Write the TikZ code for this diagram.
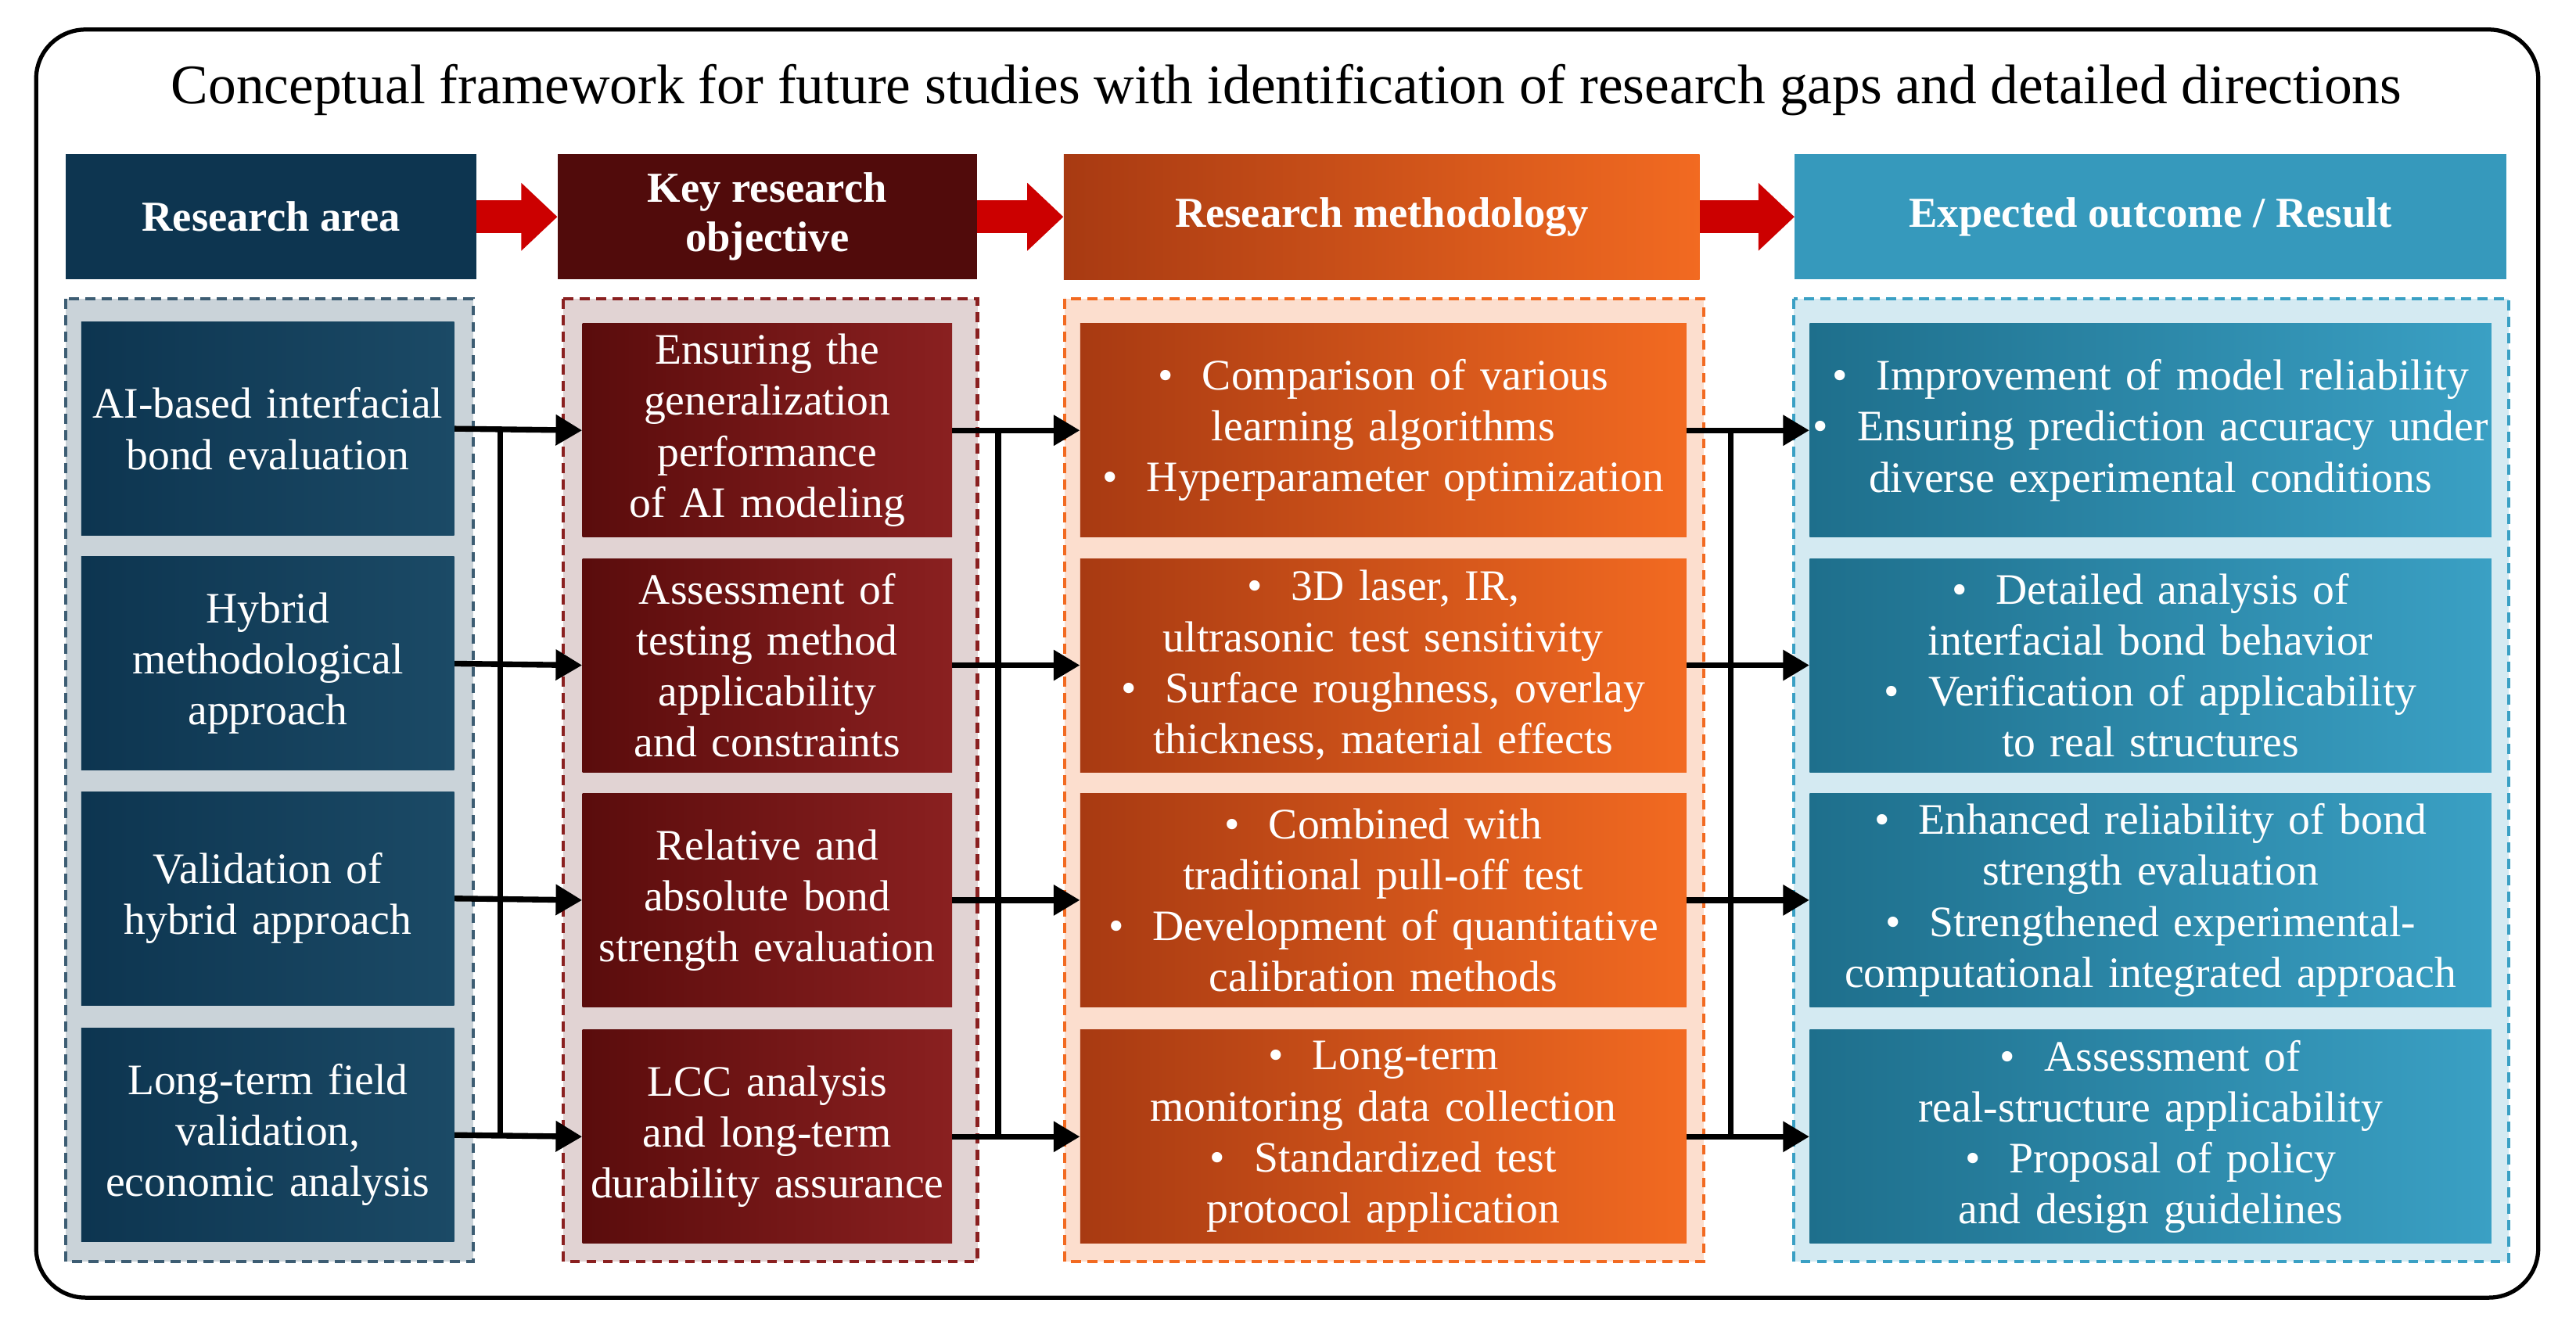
\documentclass[tikz,border=0pt]{standalone}
\usepackage{fontspec}
\setmainfont{Liberation Serif}
\usetikzlibrary{calc,arrows.meta}
\definecolor{navy}{HTML}{0D3550}
\definecolor{navyL}{HTML}{1B4A66}
\definecolor{dred}{HTML}{5A0C0C}
\definecolor{dredL}{HTML}{8A2020}
\definecolor{org}{HTML}{A83A12}
\definecolor{orgL}{HTML}{F26A21}
\definecolor{teal}{HTML}{1E6F8C}
\definecolor{tealL}{HTML}{3AA0C4}
\tikzset{
 hd/.style={minimum height=76pt,text=white,font=\bfseries\fontsize{26}{30}\selectfont,align=center,inner sep=2pt},
 bx/.style={minimum height=130pt,text=white,font=\fontsize{26.5}{31}\selectfont,align=center,inner sep=1pt},
 c1/.style={bx,minimum width=227pt,text width=225pt,left color=navy,right color=navyL},
 c2/.style={bx,minimum width=225pt,text width=223pt,left color=dred,right color=dredL},
 c3/.style={bx,minimum width=369pt,text width=367pt,left color=org,right color=orgL},
 c4/.style={bx,minimum width=415pt,text width=413pt,left color=teal,right color=tealL},
 cont/.style={dashed,line width=2pt,dash pattern=on 6pt off 4pt},
 arr/.style={-{Triangle[length=16pt,width=18pt]},line width=3.5pt},
 ln/.style={line width=3.5pt},
 rarr/.style={-{Triangle[length=22pt,width=40pt]},line width=20pt,red!80!black}
}
\begin{document}
\begin{tikzpicture}[x=1pt,y=-1pt]
\useasboundingbox (0,0) rectangle (1568,804);
\fill[white] (0,0) rectangle (1568,804);
\draw[line width=2.5pt,rounded corners=30pt] (22,18) rectangle (1545,790);
\node[font=\fontsize{34}{38}\selectfont] (title) at (783,55) {Conceptual framework for future studies with identification of research gaps and detailed directions};
% headers
\node[hd,fill=navy,minimum width=250pt] (h1) at (165,132) {Research area};
\node[hd,fill=dred!90!black,minimum width=255pt] (h2) at (467,132) {Key research\\objective};
\node[hd,left color=org,right color=orgL,minimum width=387pt] (h3) at (841,132) {Research methodology};
\node[hd,fill=tealL!85!teal,minimum width=433pt] (h4) at (1309,132) {Expected outcome / Result};
\draw[rarr] (h1.east) -- (h2.west);
\draw[rarr] (h2.east) -- (h3.west);
\draw[rarr] (h3.east) -- (h4.west);
% containers
\draw[cont,fill=navy!22,draw=navy!80] (40,182) rectangle (288,768);
\draw[cont,fill=dred!18,draw=dredL] (343,182) rectangle (595,768);
\draw[cont,fill=orgL!22,draw=orgL] (648,182) rectangle (1037,768);
\draw[cont,fill=tealL!22,draw=tealL] (1092,182) rectangle (1527,768);
% column 1
\node[c1] (a1) at (163,261) {AI-based interfacial\\bond evaluation};
\node[c1] (a2) at (163,404) {Hybrid\\methodological\\approach};
\node[c1] (a3) at (163,547) {Validation of\\hybrid approach};
\node[c1] (a4) at (163,691) {Long-term field\\validation,\\economic analysis};
% column 2
\node[c2] (b1) at (467,262) {Ensuring the\\generalization\\performance\\of AI modeling};
\node[c2] (b2) at (467,405) {Assessment of\\testing method\\applicability\\and constraints};
\node[c2] (b3) at (467,548) {Relative and\\absolute bond\\strength evaluation};
\node[c2] (b4) at (467,692) {LCC analysis\\and long-term\\durability assurance};
% column 3
\node[c3] (m1) at (842,262) {\textbullet\ \ Comparison of various\\learning algorithms\\\textbullet\ \ Hyperparameter optimization};
\node[c3] (m2) at (842,405) {\textbullet\ \ 3D laser, IR,\\ultrasonic test sensitivity\\\textbullet\ \ Surface roughness, overlay\\thickness, material effects};
\node[c3] (m3) at (842,548) {\textbullet\ \ Combined with\\traditional pull-off test\\\textbullet\ \ Development of quantitative\\calibration methods};
\node[c3] (m4) at (842,692) {\textbullet\ \ Long-term\\monitoring data collection\\\textbullet\ \ Standardized test\\protocol application};
% column 4
\node[c4] (r1) at (1309,262) {\textbullet\ \ Improvement of model reliability\\\textbullet\ \ Ensuring prediction accuracy under\\diverse experimental conditions};
\node[c4] (r2) at (1309,405) {\textbullet\ \ Detailed analysis of\\interfacial bond behavior\\\textbullet\ \ Verification of applicability\\to real structures};
\node[c4] (r3) at (1309,548) {\textbullet\ \ Enhanced reliability of bond\\strength evaluation\\\textbullet\ \ Strengthened experimental-\\computational integrated approach};
\node[c4] (r4) at (1309,692) {\textbullet\ \ Assessment of\\real-structure applicability\\\textbullet\ \ Proposal of policy\\and design guidelines};
% connectors
\foreach \i in {1,2,3,4}{
 \draw[arr] (a\i.east) -- (b\i.west);
 \draw[arr] (b\i.east) -- (m\i.west);
 \draw[arr] (m\i.east) -- (r\i.west);
}
\draw[ln] ($(a1.east)!0.36!(b1.west)$) -- ($(a4.east)!0.36!(b4.west)$);
\draw[ln] ($(b1.east)!0.36!(m1.west)$) -- ($(b4.east)!0.36!(m4.west)$);
\draw[ln] ($(m1.east)!0.36!(r1.west)$) -- ($(m4.east)!0.36!(r4.west)$);
\end{tikzpicture}
\end{document}
